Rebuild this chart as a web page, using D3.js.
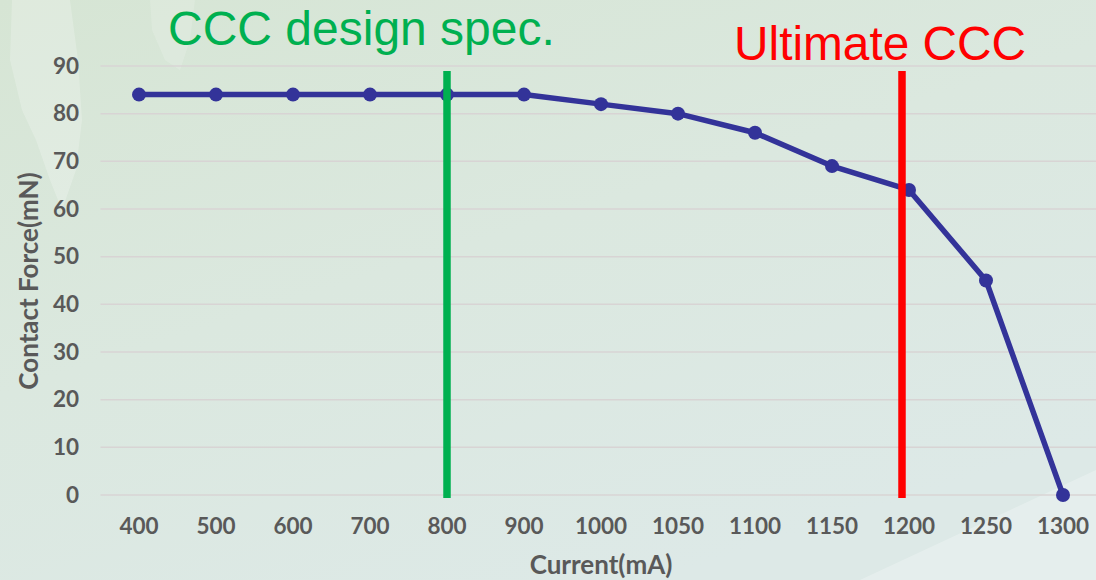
<!DOCTYPE html>
<html>
<head>
<meta charset="utf-8">
<script src="https://cdn.jsdelivr.net/npm/d3@7"></script>
<style>
  html, body { margin: 0; padding: 0; }
  body { width: 1096px; height: 580px; overflow: hidden; }
</style>
</head>
<body>
<svg id="chart" width="1096" height="580"></svg>
<script>
// Contact force versus current
const currents = ["400","500","600","700","800","900","1000","1050","1100","1150","1200","1250","1300"];
const forces = [84, 84, 84, 84, 84, 84, 82, 80, 76, 69, 64, 45, 0];
const yTicks = [0, 10, 20, 30, 40, 50, 60, 70, 80, 90];
const markers = [
  { at: "800", label: "CCC design spec.", color: "#00b050" },
  { at: "1200", label: "Ultimate CCC", color: "#ff0000" }
];

const W = 1096, H = 580;
const svg = d3.select("#chart");

// soft green backdrop
const defs = svg.append("defs");
const bg = defs.append("linearGradient").attr("id", "bg")
  .attr("x1", "0").attr("y1", "0").attr("x2", "0.6").attr("y2", "1");
bg.append("stop").attr("offset", "0").attr("stop-color", "#d6e5d4");
bg.append("stop").attr("offset", "0.5").attr("stop-color", "#dbe8df");
bg.append("stop").attr("offset", "1").attr("stop-color", "#dde9e7");
svg.append("rect").attr("width", W).attr("height", H).attr("fill", "url(#bg)");

// faint light shapes in the backdrop
const haze = svg.append("g").attr("fill", "#ffffff");
haze.append("path").attr("opacity", 0.22)
  .attr("d", "M12,0 L70,0 L78,60 L82,120 L76,170 L62,210 L50,180 L36,140 L22,110 L10,60 Z");
haze.append("path").attr("opacity", 0.15)
  .attr("d", "M150,0 L195,0 L190,40 L180,70 L165,60 L152,30 Z");
haze.append("path").attr("opacity", 0.25)
  .attr("d", "M860,580 L1096,470 L1096,580 Z");

const x = d3.scaleBand().domain(currents).range([100.5, 1101.5]);
const y = d3.scaleLinear().domain([0, 90]).range([495, 66]);
const cx = d => x(d) + x.bandwidth() / 2;

// horizontal gridlines
svg.append("g").selectAll("line").data(yTicks).join("line")
  .attr("x1", 100.5).attr("x2", 1101.5)
  .attr("y1", d => y(d)).attr("y2", d => y(d))
  .attr("stroke", "#d8d4d4").attr("stroke-width", 1.5);

const labelFont = sel => sel
  .attr("font-family", "Lato, sans-serif").attr("font-weight", "bold")
  .attr("fill", "#595959");

// y axis labels
const yAxis = svg.append("g").attr("transform", "translate(79,0)")
  .call(d3.axisLeft(y).tickValues(yTicks).tickSize(0).tickPadding(0));
yAxis.select(".domain").remove();
yAxis.selectAll("text").call(labelFont).attr("font-size", 22.5);

// x axis labels
const xAxis = svg.append("g").attr("transform", "translate(0,518)")
  .call(d3.axisBottom(x).tickSize(0).tickPadding(0));
xAxis.select(".domain").remove();
xAxis.selectAll("text").call(labelFont).attr("font-size", 22.5);

// axis titles
svg.append("text")
  .attr("transform", "translate(38,281) rotate(-90)")
  .attr("text-anchor", "middle")
  .call(labelFont).attr("font-size", 26)
  .text("Contact Force(mN)");
svg.append("text")
  .attr("x", 601).attr("y", 574)
  .attr("text-anchor", "middle")
  .call(labelFont).attr("font-size", 26)
  .text("Current(mA)");

// data line and points
const line = d3.line().x((d, i) => cx(currents[i])).y(d => y(d));
svg.append("path").datum(forces)
  .attr("d", line).attr("fill", "none")
  .attr("stroke", "#333399").attr("stroke-width", 5.5)
  .attr("stroke-linejoin", "round");
svg.append("g").selectAll("circle").data(forces).join("circle")
  .attr("cx", (d, i) => cx(currents[i])).attr("cy", d => y(d))
  .attr("r", 7).attr("fill", "#333399");

// specification markers (the ultimate line sits just left of its category centre)
const nudge = [0, -7];
svg.append("g").selectAll("line").data(markers).join("line")
  .attr("x1", (d, i) => cx(d.at) + nudge[i]).attr("x2", (d, i) => cx(d.at) + nudge[i])
  .attr("y1", 71).attr("y2", 498)
  .attr("stroke", d => d.color).attr("stroke-width", 7.5);

svg.append("text")
  .attr("x", 168).attr("y", 45)
  .attr("font-family", "Liberation Sans, Arial, sans-serif")
  .attr("font-size", 48).attr("fill", markers[0].color)
  .text(markers[0].label);
svg.append("text")
  .attr("x", 734).attr("y", 60)
  .attr("font-family", "Liberation Sans, Arial, sans-serif")
  .attr("font-size", 47.8).attr("fill", markers[1].color)
  .text(markers[1].label);
</script>
</body>
</html>
